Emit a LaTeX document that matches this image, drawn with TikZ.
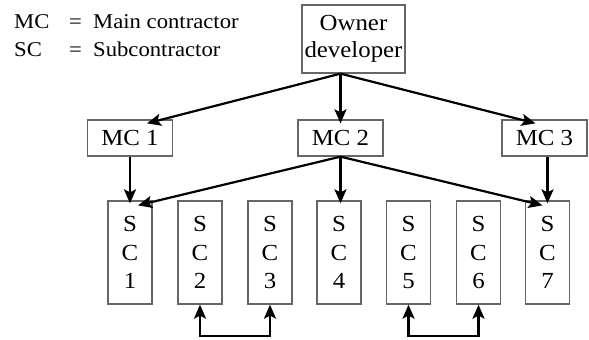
\documentclass[tikz,border=0pt]{standalone}
\usepackage{fontspec}
\setmainfont{Liberation Serif}[FakeStretch=1.08]
\usetikzlibrary{arrows.meta,calc}
\begin{document}
\begin{tikzpicture}[x=1pt,y=-1pt,
  txt/.style={font=\fontsize{23}{27}\selectfont, text=black},
  box/.style={txt, draw=black!60, line width=1.3pt, inner sep=0pt, align=center},
  mcbox/.style={box, minimum width=85pt, minimum height=36pt},
  scbox/.style={box, minimum width=44pt, minimum height=103pt, font=\fontsize{23}{28.5}\selectfont},
  arr/.style={line width=2.2pt, -{Stealth[length=14pt,width=12pt,inset=3pt]}},
  darr/.style={line width=2.2pt, {Stealth[length=14pt,width=12pt,inset=3pt]}-{Stealth[length=14pt,width=12pt,inset=3pt]}},
  leg/.style={font=\fontsize{21}{27}\selectfont, text=black, anchor=base west, inner sep=0pt}]
\useasboundingbox (0,0) rectangle (589,340);
% legend
\node[leg] (l1a) at (14,28) {MC};
\node[leg] (l1b) at (69,28) {=};
\node[leg] (l1c) at (93,28) {Main contractor};
\node[leg] (l2a) at (14,56) {SC};
\node[leg] (l2b) at (69,56) {=};
\node[leg] (l2c) at (93,56) {Subcontractor};
% owner
\node[box, minimum width=103pt, minimum height=68pt] (own) at (353.5,39) {Owner\\developer};
% MCs
\node[mcbox] (mc1) at (130,138) {MC 1};
\node[mcbox] (mc2) at (340.5,138) {MC 2};
\node[mcbox] (mc3) at (544.5,138) {MC 3};
% SCs
\node[scbox] (sc1) at (130,252.5) {S\\C\\1};
\node[scbox] (sc2) at (200,252.5) {S\\C\\2};
\node[scbox] (sc3) at (270,252.5) {S\\C\\3};
\node[scbox] (sc4) at (339,252.5) {S\\C\\4};
\node[scbox] (sc5) at (408.5,252.5) {S\\C\\5};
\node[scbox] (sc6) at (478.5,252.5) {S\\C\\6};
\node[scbox] (sc7) at (547.5,252.5) {S\\C\\7};
% owner arrows
\coordinate (o) at (own.south -| mc2.north);
\draw[arr] (o) -- ([xshift=17pt,yshift=-4pt]mc1.north);
\draw[arr] (o) -- ([yshift=-4pt]mc2.north);
\draw[arr] (o) -- ([xshift=-9pt,yshift=-4pt]mc3.north);
% MC arrows
\draw[arr] (mc1.south) -- ([yshift=-3pt]sc1.north);
\draw[arr] (mc2.south) -- ([xshift=8pt,yshift=-5pt]sc1.north);
\draw[arr] (mc2.south) -- ([yshift=-3pt]sc4.north -| mc2.south);
\draw[arr] (mc2.south) -- ([xshift=-5pt,yshift=-5pt]sc7.north);
\draw[arr] (mc3.south -| sc7.north) -- ([yshift=-3pt]sc7.north);
% SC pairs
\draw[darr] (sc2.south) -- ++(0,31) -| (sc3.south);
\draw[darr] (sc5.south) -- ++(0,31) -| (sc6.south);
\end{tikzpicture}
\end{document}
